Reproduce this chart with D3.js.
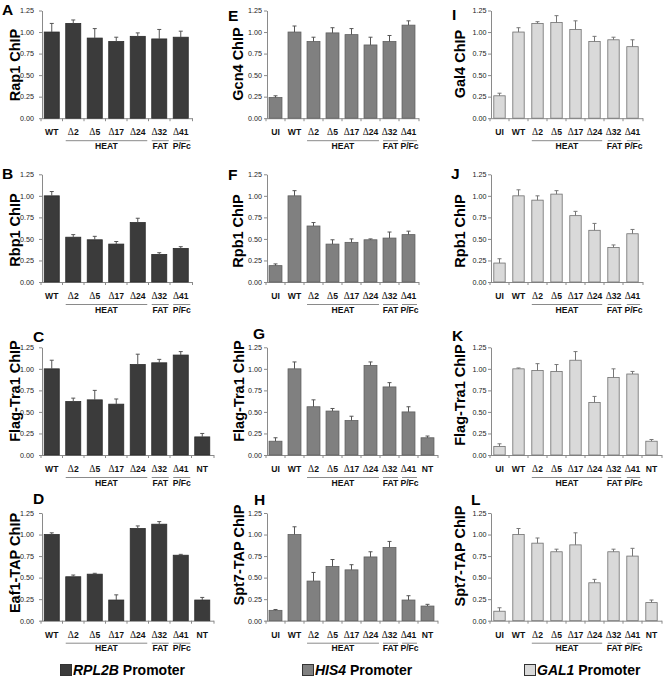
<!DOCTYPE html>
<html><head><meta charset="utf-8">
<script src="https://cdn.jsdelivr.net/npm/d3@7/dist/d3.min.js"></script>
<style>body{margin:0;background:#fff}svg{display:block}</style>
</head><body>
<svg id="c" width="664" height="680"></svg>
<script>
// ---------- DATA ----------
const baseCats = ["WT","Δ2","Δ5","Δ17","Δ24","Δ32","Δ41"];
const cats7 = baseCats;
const cats8nt = [...baseCats, "NT"];
const cats8ui = ["UI", ...baseCats];
const cats9 = ["UI", ...baseCats, "NT"];
const yTicks = [0, 0.25, 0.5, 0.75, 1.0, 1.25];
const groupDefs = [
  {label: "HEAT", from: "Δ2", to: "Δ24"},
  {label: "FAT", from: "Δ32", to: "Δ32"},
  {label: "P/Fc", from: "Δ41", to: "Δ41"}
];
const promoters = ["RPL2B", "HIS4", "GAL1"];

const valsA = [1.00,1.10,0.93,0.89,0.95,0.92,0.94];
const errA  = [0.10,0.04,0.11,0.05,0.04,0.11,0.07];
const valsB = [1.00,0.52,0.49,0.44,0.69,0.32,0.39];
const errB  = [0.05,0.03,0.04,0.03,0.05,0.02,0.02];
const valsC = [1.00,0.62,0.64,0.59,1.05,1.07,1.16,0.21];
const errC  = [0.10,0.04,0.11,0.06,0.12,0.04,0.04,0.04];
const valsD = [1.00,0.51,0.54,0.24,1.07,1.12,0.76,0.24];
const errD  = [0.02,0.02,0.01,0.06,0.03,0.03,0.01,0.03];

const valsE = [0.24,1.00,0.89,0.99,0.97,0.85,0.89,1.08];
const errE  = [0.02,0.07,0.05,0.06,0.07,0.09,0.07,0.05];
const valsF = [0.19,1.00,0.65,0.44,0.46,0.49,0.51,0.55];
const errF  = [0.02,0.06,0.04,0.05,0.04,0.01,0.07,0.04];
const valsG = [0.16,1.00,0.56,0.51,0.40,1.04,0.79,0.50,0.20];
const errG  = [0.04,0.08,0.08,0.03,0.05,0.04,0.05,0.06,0.02];
const valsH = [0.12,1.00,0.46,0.63,0.59,0.74,0.85,0.24,0.17];
const errH  = [0.01,0.09,0.10,0.08,0.06,0.06,0.07,0.05,0.02];

const valsI = [0.26,1.00,1.10,1.11,1.03,0.89,0.91,0.83];
const errI  = [0.03,0.05,0.02,0.08,0.10,0.06,0.03,0.08];
const valsJ = [0.22,1.00,0.95,1.02,0.77,0.60,0.40,0.56];
const errJ  = [0.05,0.07,0.05,0.04,0.05,0.08,0.03,0.05];
const valsK = [0.10,1.00,0.98,0.97,1.10,0.61,0.90,0.94,0.16];
const errK  = [0.03,0.01,0.08,0.08,0.10,0.07,0.10,0.03,0.02];
const valsL = [0.11,1.00,0.90,0.80,0.88,0.44,0.80,0.75,0.21];
const errL  = [0.04,0.07,0.06,0.03,0.14,0.04,0.03,0.09,0.03];

const panels = [
  {id:"A", col:0, row:0, title:"Rap1 ChIP",      cats:cats7,  vals:valsA, err:errA},
  {id:"B", col:0, row:1, title:"Rbp1 ChIP",      cats:cats7,  vals:valsB, err:errB},
  {id:"C", col:0, row:2, title:"Flag-Tra1 ChIP", cats:cats8nt,vals:valsC, err:errC},
  {id:"D", col:0, row:3, title:"Eaf1-TAP ChIP",  cats:cats8nt,vals:valsD, err:errD},
  {id:"E", col:1, row:0, title:"Gcn4 ChIP",      cats:cats8ui,vals:valsE, err:errE},
  {id:"F", col:1, row:1, title:"Rpb1 ChIP",      cats:cats8ui,vals:valsF, err:errF},
  {id:"G", col:1, row:2, title:"Flag-Tra1 ChIP", cats:cats9,  vals:valsG, err:errG},
  {id:"H", col:1, row:3, title:"Spt7-TAP ChIP",  cats:cats9,  vals:valsH, err:errH},
  {id:"I", col:2, row:0, title:"Gal4 ChIP",      cats:cats8ui,vals:valsI, err:errI},
  {id:"J", col:2, row:1, title:"Rpb1 ChIP",      cats:cats8ui,vals:valsJ, err:errJ},
  {id:"K", col:2, row:2, title:"Flag-Tra1 ChIP", cats:cats9,  vals:valsK, err:errK},
  {id:"L", col:2, row:3, title:"Spt7-TAP ChIP",  cats:cats9,  vals:valsL, err:errL}
];

// ---------- LAYOUT / STYLE ----------
const colAxisX = [42, 267, 491];
const colStep = [21.5, 19, 19];
const colPad = [0.3, 0.32, 0.4];
const colTickPad = [5, 2, 1.5];
const rowTop = [10.5, 174.3, 347.3, 513];
const plotH = 107.7;
const colFill = ["#3b3b3b", "#808080", "#d9d9d9"];
const colStroke = ["#2b2b2b", "#5f5f5f", "#707070"];
const colErr = ["#555", "#555", "#777"];
// letter [x, baseline], title [centerX, centerY]
const letterPos = {A:[2,15],B:[2,179],C:[33,342],D:[33,504],E:[228,21],F:[228,180],G:[253,339],H:[254,505],I:[452,20],J:[451,179],K:[452,341],L:[471,505]};
const titlePos = {A:[15,65],B:[15,230],C:[15,391],D:[15,563],E:[238,64],F:[238,231],G:[239,391],H:[239,555],I:[460,64],J:[460,231],K:[460,395],L:[460,556]};
const legendX = [60, 302, 524];
const legendY = 664;

const FONT = "'Liberation Sans', Arial, Helvetica, sans-serif";
const SERIF = "'Liberation Serif', 'Times New Roman', serif";
const svg = d3.select("#c").style("font-family", FONT);

function deltaText(sel) {
  sel.each(function(d) {
    const t = d3.select(this);
    const s = String(d);
    t.text(null);
    if (s.startsWith("Δ")) {
      t.append("tspan").attr("font-family", SERIF).attr("font-weight", "normal")
        .attr("font-size", 9.5).text("Δ");
      t.append("tspan").text(s.slice(1));
    } else {
      t.text(s);
    }
  });
}

panels.forEach(p => {
  const g = svg.append("g");
  const ax = colAxisX[p.col];
  const n = p.cats.length;
  const pad = colPad[p.col];
  const x = d3.scaleBand().domain(p.cats)
    .range([ax - 1, ax - 1 + n * colStep[p.col]])
    .paddingInner(pad).paddingOuter(pad / 2);
  const top = rowTop[p.row];
  const y = d3.scaleLinear().domain([0, 1.25]).range([top + plotH, top]);
  const y0 = y(0);

  // y axis
  const yAxis = d3.axisLeft(y).tickValues(yTicks).tickFormat(d3.format(".2f"))
    .tickSizeInner(3).tickSizeOuter(0).tickPadding(colTickPad[p.col]);
  const yg = g.append("g").attr("transform", `translate(${ax},0)`).call(yAxis);
  yg.select(".domain").attr("stroke", "#8a8a8a");
  yg.selectAll(".tick line").attr("stroke", "#8a8a8a");
  yg.selectAll(".tick text").attr("font-size", 7.2).attr("fill", "#222").attr("font-family", FONT);

  // x axis line + boundary ticks
  const xEnd = x.range()[1] + 1;
  g.append("line").attr("x1", ax).attr("x2", xEnd).attr("y1", y0 + 0.5).attr("y2", y0 + 0.5)
    .attr("stroke", "#8a8a8a");
  const bounds = p.cats.map(c => x(c) - x.step() * x.paddingInner() / 2).concat([xEnd]);
  g.selectAll(".bt").data(bounds).join("line")
    .attr("x1", d => d).attr("x2", d => d).attr("y1", y0).attr("y2", y0 + 3)
    .attr("stroke", "#8a8a8a");

  // category labels through axisBottom
  const xAxis = d3.axisBottom(x).tickSize(0).tickPadding(11);
  const xg = g.append("g").attr("transform", `translate(0,${y0})`).call(xAxis);
  xg.select(".domain").remove();
  xg.selectAll(".tick text").attr("font-size", 8.6).attr("font-weight", "bold")
    .attr("fill", "#111").attr("font-family", FONT).call(deltaText);

  // bars
  const data = p.cats.map((c, i) => ({c, v: p.vals[i], e: p.err[i]}));
  g.selectAll(".bar").data(data).join("rect")
    .attr("x", d => x(d.c)).attr("width", x.bandwidth())
    .attr("y", d => y(d.v)).attr("height", d => y0 - y(d.v))
    .attr("fill", colFill[p.col]).attr("stroke", colStroke[p.col]).attr("stroke-width", 0.8);

  // error bars (upper whisker)
  const eg = g.selectAll(".eb").data(data).join("g");
  eg.append("line")
    .attr("x1", d => x(d.c) + x.bandwidth() / 2).attr("x2", d => x(d.c) + x.bandwidth() / 2)
    .attr("y1", d => y(d.v)).attr("y2", d => y(d.v + d.e))
    .attr("stroke", colErr[p.col]).attr("stroke-width", 1);
  eg.append("line")
    .attr("x1", d => x(d.c) + x.bandwidth() / 2 - 2).attr("x2", d => x(d.c) + x.bandwidth() / 2 + 2)
    .attr("y1", d => y(d.v + d.e)).attr("y2", d => y(d.v + d.e))
    .attr("stroke", colErr[p.col]).attr("stroke-width", 1);

  // group labels
  groupDefs.forEach(gd => {
    const xa = x(gd.from), xb = x(gd.to) + x.bandwidth() + 2;
    g.append("line").attr("x1", xa).attr("x2", xb).attr("y1", y0 + 22.5).attr("y2", y0 + 22.5)
      .attr("stroke", "#8a8a8a").attr("stroke-width", 1);
    g.append("text").attr("x", (xa + xb) / 2).attr("y", y0 + 30.5)
      .attr("text-anchor", "middle").attr("font-size", 8.6).attr("font-weight", "bold")
      .attr("fill", "#111").text(gd.label);
  });

  // y title
  const tp = titlePos[p.id];
  g.append("text").attr("transform", `translate(${tp[0]},${tp[1]}) rotate(-90)`)
    .attr("text-anchor", "middle").attr("dy", "0.36em")
    .attr("font-size", 14.5).attr("font-weight", "bold").attr("fill", "#000")
    .text(p.title);

  // panel letter
  const lp = letterPos[p.id];
  g.append("text").attr("x", lp[0]).attr("y", lp[1])
    .attr("font-size", 15.5).attr("font-weight", "bold").attr("fill", "#000").text(p.id);
});

// legend
promoters.forEach((name, i) => {
  const lg = svg.append("g").attr("transform", `translate(${legendX[i]},${legendY})`);
  lg.append("rect").attr("x", 0.5).attr("y", 0.5).attr("width", 11).attr("height", 11)
    .attr("fill", colFill[i]).attr("stroke", "#333").attr("stroke-width", 1);
  const t = lg.append("text").attr("x", 13).attr("y", 10.5)
    .attr("font-size", 14).attr("font-weight", "bold").attr("fill", "#000");
  t.append("tspan").attr("font-style", "italic").text(name);
  t.append("tspan").text(" Promoter");
});
</script>
</body></html>
